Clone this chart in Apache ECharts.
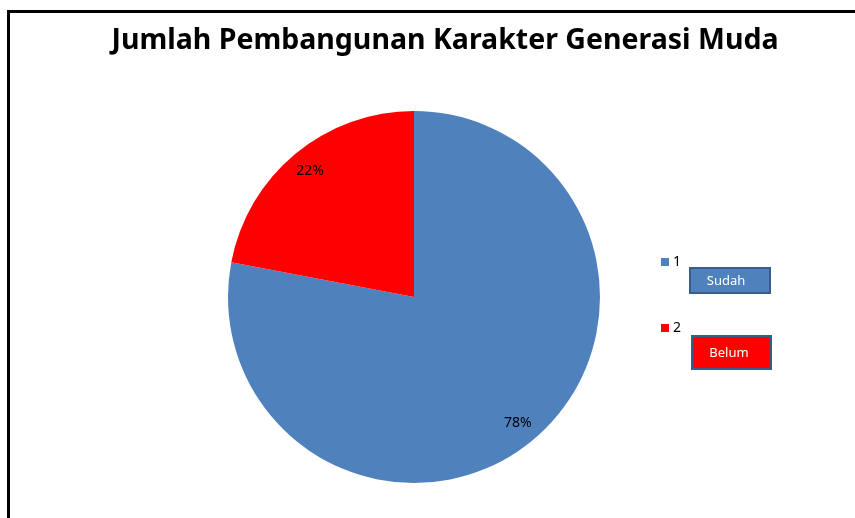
<!DOCTYPE html>
<html lang="id">
<head>
    <meta charset="UTF-8">
    <title>Jumlah Pembangunan Karakter Generasi Muda</title>
    <script src="https://cdn.jsdelivr.net/npm/echarts@6/dist/echarts.min.js"></script>
    <style>
        html, body { margin: 0; padding: 0; background: #fff; }
        #chart { width: 855px; height: 518px; }
    </style>
</head>
<body>
    <div id="chart"></div>
    <script>
        const categories = ['1', '2'];
        const values = [78, 22];
        const colors = ['#4F81BD', '#FF0000'];
        const noteTexts = ['Sudah', 'Belum'];

        const chart = echarts.init(document.getElementById('chart'));
        const font = '"Noto Sans", sans-serif';

        chart.setOption({
            animation: false,
            title: {
                text: 'Jumlah Pembangunan Karakter Generasi Muda',
                left: 440, top: 21, textAlign: 'center',
                textStyle: { fontFamily: font, fontSize: 28.5, fontWeight: 'bold', color: '#000' }
            },
            legend: {
                orient: 'vertical',
                left: 656, top: 249,
                icon: 'rect',
                itemWidth: 8, itemHeight: 8,
                itemGap: 50,
                data: categories,
                selectedMode: false,
                textStyle: { fontFamily: font, fontSize: 14, lineHeight: 16, color: '#000', padding: [0, 0, 0, -1] }
            },
            graphic: [
                {
                    type: 'rect', silent: true, z: -1,
                    shape: { x: 8.5, y: 11.5, width: 900, height: 600 },
                    style: { fill: 'none', stroke: '#000', lineWidth: 3 }
                },
                {
                    type: 'group', left: 689, top: 267,
                    children: [
                        { type: 'rect', shape: { x: 0, y: 0, width: 80, height: 25 },
                          style: { fill: colors[0], stroke: '#385D8A', lineWidth: 2 } },
                        { type: 'text', x: 36, y: 13,
                          style: { text: noteTexts[0], fill: '#fff', font: '13px "Noto Sans", sans-serif', align: 'center', verticalAlign: 'middle' } }
                    ]
                },
                {
                    type: 'group', left: 691, top: 335,
                    children: [
                        { type: 'rect', shape: { x: 0, y: 0, width: 79, height: 33 },
                          style: { fill: colors[1], stroke: '#385D8A', lineWidth: 2 } },
                        { type: 'text', x: 37, y: 17,
                          style: { text: noteTexts[1], fill: '#fff', font: '13px "Noto Sans", sans-serif', align: 'center', verticalAlign: 'middle' } }
                    ]
                }
            ],
            series: [
                {
                    type: 'pie',
                    center: [414, 297],
                    radius: [0, 186],
                    startAngle: 90,
                    clockwise: true,
                    silent: true,
                    label: { show: false },
                    labelLine: { show: false },
                    itemStyle: { borderWidth: 0 },
                    data: categories.map((c, i) => ({ name: c, value: values[i], itemStyle: { color: colors[i] } }))
                },
                {
                    // transparent ring only to place the percentage labels at ~0.86 of the radius
                    type: 'pie',
                    center: [414, 297],
                    radius: [140, 180],
                    startAngle: 90,
                    clockwise: true,
                    silent: true,
                    legendHoverLink: false,
                    itemStyle: { color: 'transparent', borderWidth: 0 },
                    label: {
                        show: true, position: 'inside',
                        formatter: '{d}%',
                        fontFamily: font, fontSize: 14, color: '#000'
                    },
                    labelLine: { show: false },
                    data: categories.map((c, i) => ({ name: c, value: values[i] }))
                }
            ]
        });
    </script>
</body>
</html>
